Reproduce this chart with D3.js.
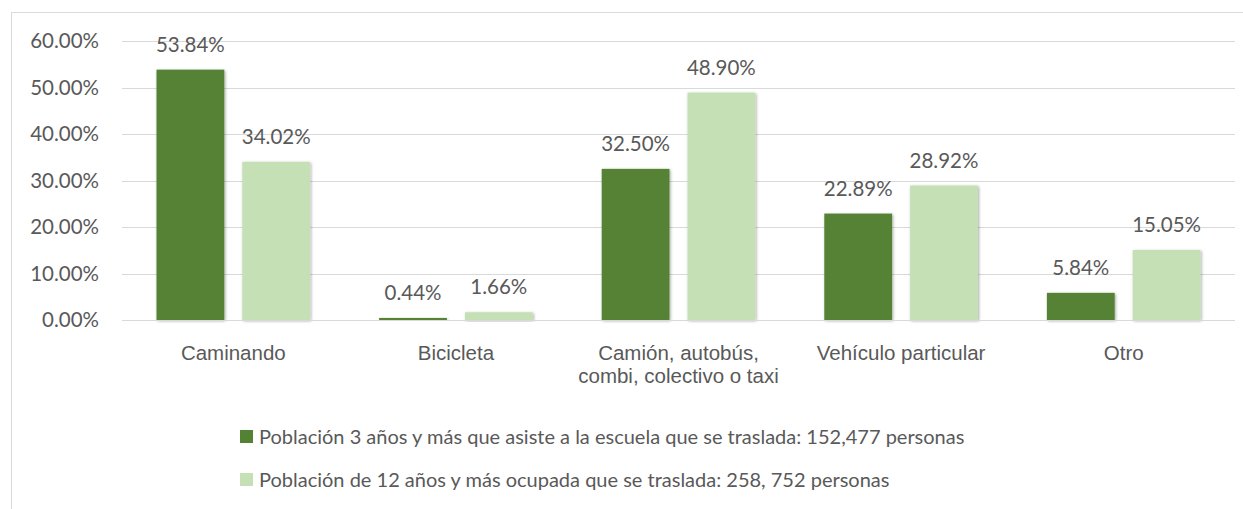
<!DOCTYPE html>
<html>
<head>
<meta charset="utf-8">
<script src="https://cdn.jsdelivr.net/npm/d3@7"></script>
<style>
  html, body { margin: 0; padding: 0; background: #fff; }
  svg { display: block; font-family: Lato, "Open Sans", sans-serif; }
</style>
</head>
<body>
<svg id="chart" width="1243" height="509"></svg>
<script>
// Medio de traslado: escuela vs. trabajo
const categories = [
  ["Caminando"],
  ["Bicicleta"],
  ["Camión, autobús,", "combi, colectivo o taxi"],
  ["Vehículo particular"],
  ["Otro"]
];
const escuela = [53.84, 0.44, 32.50, 22.89, 5.84];
const trabajo = [34.02, 1.66, 48.90, 28.92, 15.05];
const seriesNames = [
  "Población 3 años y más que asiste a la escuela que se traslada: 152,477 personas",
  "Población de 12 años y más ocupada que se traslada: 258, 752 personas"
];
const yTicks = [0, 10, 20, 30, 40, 50, 60];

const colors = ["#548235", "#C5E0B4"];
const textColor = "#595959";
const fontSize = "20.5px";
const legendFontSize = "20px";

const svg = d3.select("#chart");

// outer frame
svg.append("rect")
  .attr("x", 11.5).attr("y", 12.5)
  .attr("width", 1240).attr("height", 500)
  .attr("fill", "none").attr("stroke", "#d9d9d9").attr("stroke-width", 1);

const plot = { left: 122, right: 1235, top: 41, bottom: 320 };

const y = d3.scaleLinear().domain([0, 60]).range([plot.bottom, plot.top]);
const x0 = d3.scaleBand().domain(d3.range(categories.length))
  .range([plot.left, plot.right]).paddingInner(0.31).paddingOuter(0.155);
const x1 = d3.scaleBand().domain([0, 1]).range([0, x0.bandwidth()]).paddingInner(0.21);

const defs = svg.append("defs");
const f = defs.append("filter").attr("id", "shadow")
  .attr("x", "-20%").attr("y", "-20%").attr("width", "140%").attr("height", "140%");
f.append("feDropShadow").attr("dx", 1).attr("dy", 1).attr("stdDeviation", 1.6)
  .attr("flood-color", "#000").attr("flood-opacity", 0.35);

// gridlines
svg.append("g").selectAll("line").data(yTicks).join("line")
  .attr("x1", plot.left).attr("x2", plot.right)
  .attr("y1", d => Math.round(y(d)) + 0.5).attr("y2", d => Math.round(y(d)) + 0.5)
  .attr("stroke", "#d9d9d9").attr("stroke-width", 1);

// y axis labels
const yAxis = d3.axisLeft(y).tickValues(yTicks)
  .tickFormat(d => d3.format(".2f")(d) + "%").tickSize(0).tickPadding(0);
const yg = svg.append("g").attr("transform", `translate(${plot.left - 23},0)`).call(yAxis);
yg.select(".domain").remove();
yg.selectAll("text").attr("fill", textColor).style("font-size", fontSize)
  .style("font-family", "Lato, 'Open Sans', sans-serif");

// bars
const series = [escuela, trabajo];
series.forEach((vals, s) => {
  const g = svg.append("g");
  g.selectAll("rect").data(vals).join("rect")
    .attr("x", (d, i) => x0(i) + x1(s))
    .attr("y", d => y(d))
    .attr("width", x1.bandwidth())
    .attr("height", d => y(0) - y(d))
    .attr("fill", colors[s])
    .attr("filter", "url(#shadow)");
  g.selectAll("text").data(vals).join("text")
    .attr("x", (d, i) => x0(i) + x1(s) + x1.bandwidth() / 2)
    .attr("y", d => y(d) - 18)
    .attr("text-anchor", "middle")
    .attr("fill", textColor)
    .style("font-size", fontSize)
    .text(d => d3.format(".2f")(d) + "%");
});

// zero line on top of bars
svg.append("line")
  .attr("x1", plot.left).attr("x2", plot.right)
  .attr("y1", Math.round(y(0)) + 0.5).attr("y2", Math.round(y(0)) + 0.5)
  .attr("stroke", "#d9d9d9");

// category labels
const xAxis = d3.axisBottom(x0).tickSize(0).tickFormat(() => "");
const xg = svg.append("g").attr("transform", `translate(0,${plot.bottom})`).call(xAxis);
xg.select(".domain").remove();
xg.selectAll(".tick").each(function(d) {
  const t = d3.select(this).append("text")
    .attr("text-anchor", "middle").attr("fill", textColor)
    .style("font-size", fontSize);
  categories[d].forEach((line, k) => {
    t.append("tspan").attr("x", 0).attr("y", 40 + k * 23).text(line);
  });
});

// legend
const legend = svg.append("g");
seriesNames.forEach((name, s) => {
  const ly = 437 + s * 43;
  legend.append("rect").attr("x", 240).attr("y", ly - 7).attr("width", 13).attr("height", 13)
    .attr("fill", colors[s]);
  legend.append("text").attr("x", 259).attr("y", ly + 7)
    .attr("fill", textColor).style("font-size", legendFontSize).text(name);
});
</script>
</body>
</html>
